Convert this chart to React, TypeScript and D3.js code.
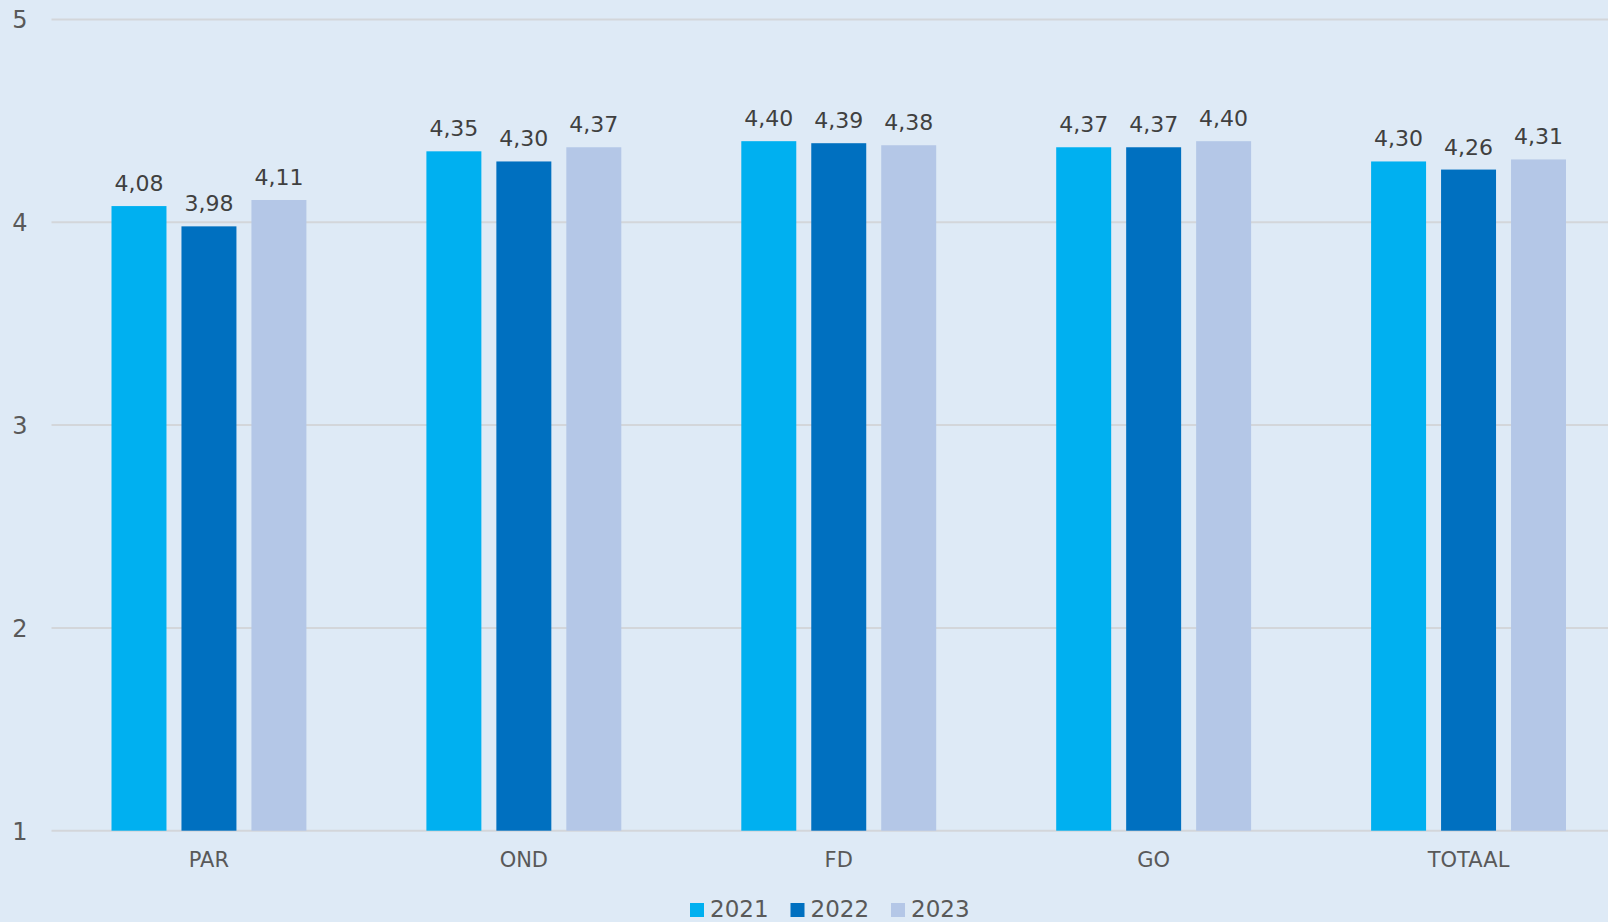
import React from "react";
import * as d3 from "d3";

const categories = ["PAR", "OND", "FD", "GO", "TOTAAL"];
const seriesNames = ["2021", "2022", "2023"];
const values2021 = [4.08, 4.35, 4.4, 4.37, 4.3];
const values2022 = [3.98, 4.3, 4.39, 4.37, 4.26];
const values2023 = [4.11, 4.37, 4.38, 4.4, 4.31];
const yTicks = [1, 2, 3, 4, 5];
const colors = ["#00B0F0", "#0070C0", "#B4C7E7"];

const W = 1608;
const H = 922;
const FONT = "'DejaVu Sans', Verdana, sans-serif";

export default function App() {
  const series = [values2021, values2022, values2023];
  const x = d3.scaleBand<string>().domain(categories).range([51.5, 1626]).paddingInner(0).paddingOuter(0);
  const inner = d3
    .scaleBand<string>()
    .domain(seriesNames)
    .range([60, x.bandwidth() - 60])
    .paddingInner(15 / 70)
    .paddingOuter(0);
  const y = d3.scaleLinear().domain([1, 5]).range([830.7, 19.5]);
  const fmt = (v: number) => v.toFixed(2).replace(".", ",");

  return (
    <div style={{ position: "fixed", left: 0, top: 0, width: W, height: H }}>
      <svg width={W} height={H} style={{ display: "block" }}>
        <rect x={0} y={0} width={W} height={H} fill="#DEEAF6" />
        {yTicks.map((t) => (
          <g key={t}>
            <line x1={51.5} x2={W} y1={y(t)} y2={y(t)} stroke="#D3D6DA" strokeWidth={2} />
            <text
              x={27.5}
              y={y(t) + 8.8}
              textAnchor="end"
              fontFamily={FONT}
              fontSize={24}
              fill="#595959"
            >
              {t}
            </text>
          </g>
        ))}
        {categories.map((c, ci) => (
          <g key={c} transform={`translate(${x(c)},0)`}>
            {series.map((vals, si) => {
              const bx = inner(seriesNames[si])!;
              const bw = inner.bandwidth();
              const v = vals[ci];
              return (
                <g key={si}>
                  <rect x={bx} y={y(v)} width={bw} height={y(1) - y(v)} fill={colors[si]} />
                  <text
                    x={bx + bw / 2}
                    y={y(v) - 15}
                    textAnchor="middle"
                    fontFamily={FONT}
                    fontSize={22}
                    fill="#404040"
                  >
                    {fmt(v)}
                  </text>
                </g>
              );
            })}
            <text
              x={x.bandwidth() / 2}
              y={867}
              textAnchor="middle"
              fontFamily={FONT}
              fontSize={21}
              fill="#595959"
            >
              {c}
            </text>
          </g>
        ))}
        {seriesNames.map((s, i) => (
          <g key={s} transform={`translate(${690 + i * 100.5},0)`}>
            <rect x={0} y={903} width={14} height={14} fill={colors[i]} />
            <text x={20} y={917} fontFamily={FONT} fontSize={23} fill="#595959">
              {s}
            </text>
          </g>
        ))}
      </svg>
    </div>
  );
}
